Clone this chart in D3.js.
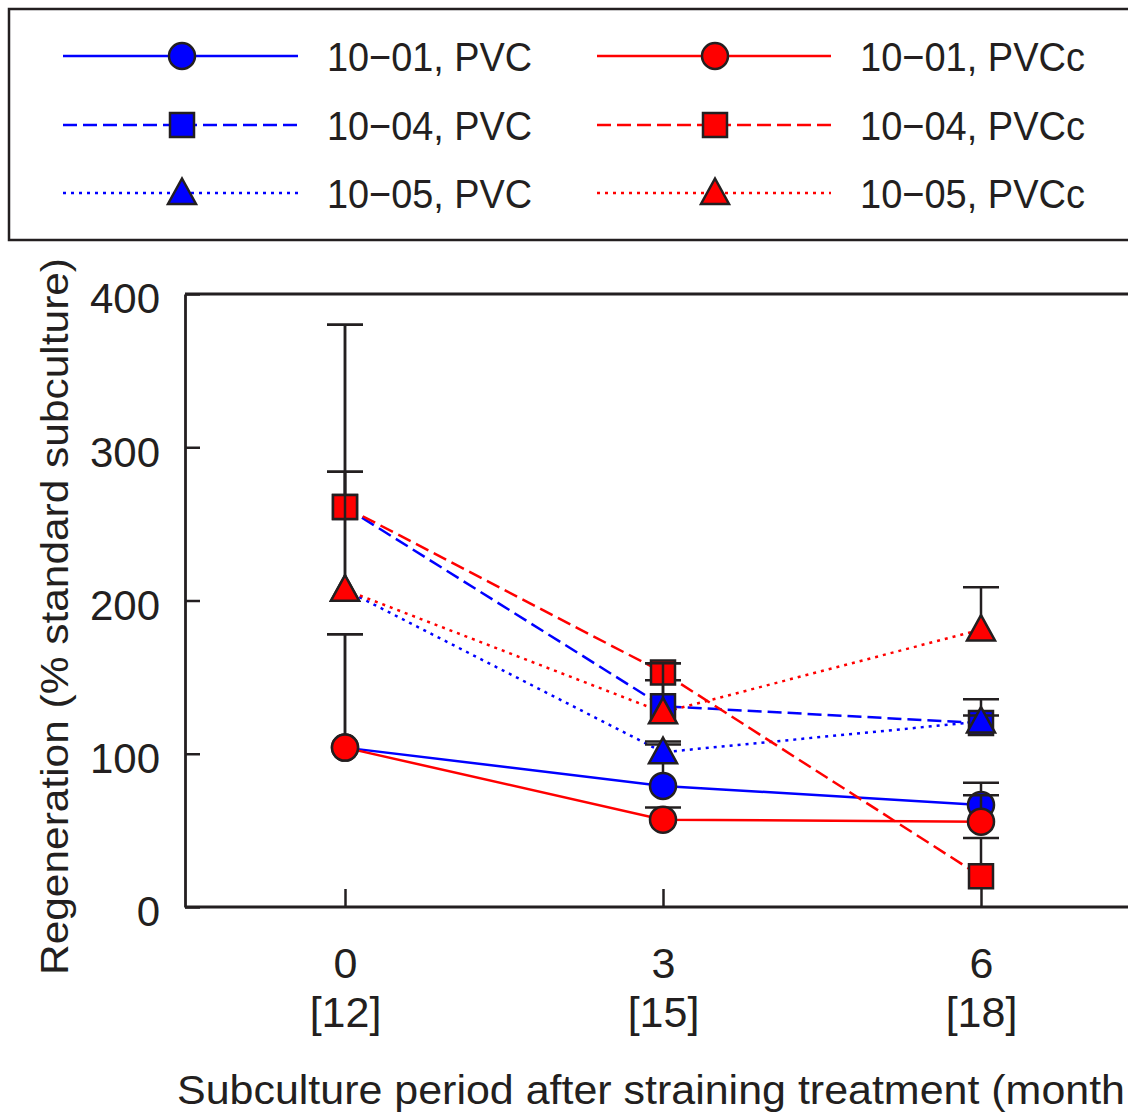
<!DOCTYPE html>
<html><head><meta charset="utf-8">
<script src="https://cdn.jsdelivr.net/npm/d3@7"></script>
<style>body{margin:0;background:#fff}svg{display:block}</style>
</head><body>
<svg id="c" width="1128" height="1112"></svg>
<script>
// ---------- data ----------
const months = [0, 3, 6];
const monthLabels = ["0", "3", "6"];
const totalLabels = ["[12]", "[15]", "[18]"];
const yTicks = [0, 100, 200, 300, 400];

const seriesNames = ["10\u221201, PVC", "10\u221204, PVC", "10\u221205, PVC",
                     "10\u221201, PVCc", "10\u221204, PVCc", "10\u221205, PVCc"];
const seriesColors = ["#0000ff", "#0000ff", "#0000ff", "#ff0000", "#ff0000", "#ff0000"];
const seriesShapes = ["circle", "square", "triangle", "circle", "square", "triangle"];
const seriesDash = ["none", "14,6", "3,5", "none", "14,6", "3,5"];

const pvc01 = [104, 79, 66.6];
const pvc04 = [261, 131, 120];
const pvc05 = [207, 101, 121];
const pvcc01 = [104, 57, 55.7];
const pvcc04 = [261, 153, 20];
const pvcc05 = [207, 127, 181];

// upper end of error bars
const pvc01Err = [178, 106, 81];
const pvc04Err = [380, 148, 135.5];
const pvc05Err = [284, 108, 125];
const pvcc01Err = [178, 65, 73];
const pvcc04Err = [380, 159, 45];
const pvcc05Err = [284, 159, 208.6];

const seriesValues = [pvc01, pvc04, pvc05, pvcc01, pvcc04, pvcc05];
const seriesErr = [pvc01Err, pvc04Err, pvc05Err, pvcc01Err, pvcc04Err, pvcc05Err];

const series = seriesNames.map((name, i) => ({
  name, color: seriesColors[i], shape: seriesShapes[i], dash: seriesDash[i],
  points: months.map((m, j) => ({m, v: seriesValues[i][j], e: seriesErr[i][j]}))
}));

// ---------- layout ----------
const INK = "#231f20";
const FONT = "'Liberation Sans', Arial, Helvetica, sans-serif";
const svg = d3.select("#c");

const x = d3.scaleLinear().domain([0, 6]).range([345, 981]);
const y = d3.scaleLinear().domain([0, 400]).range([907, 294]);
const axisLeftX = 185, axisRightX = 1140;

function markerPath(shape) {
  if (shape === "circle") return "M13,0A13,13 0 1,1 -13,0A13,13 0 1,1 13,0Z";
  if (shape === "square") return "M-12,-12H12V12H-12Z";
  return "M0,-14.5L14,11H-14Z";
}

// top frame line
svg.append("line").attr("x1", axisLeftX).attr("x2", axisRightX)
  .attr("y1", y(400)).attr("y2", y(400))
  .attr("stroke", INK).attr("stroke-width", 2.8);

// y axis
const gy = svg.append("g").attr("transform", `translate(${axisLeftX},0)`)
  .call(d3.axisLeft(y).tickValues(yTicks).tickSizeInner(-15).tickSizeOuter(0).tickPadding(25));
gy.select(".domain").attr("stroke", INK).attr("stroke-width", 2.8);
gy.selectAll(".tick line").attr("stroke", INK).attr("stroke-width", 2.5);
gy.selectAll(".tick text").attr("fill", INK).attr("font-family", FONT)
  .attr("font-size", 42).attr("dy", "0.45em");

// x axis
const gx = svg.append("g").attr("transform", `translate(0,${y(0)})`)
  .call(d3.axisBottom(x).tickValues(months).tickSizeInner(-18).tickSizeOuter(0).tickFormat(""));
gx.select(".domain").remove();
gx.append("line").attr("x1", axisLeftX).attr("x2", axisRightX)
  .attr("stroke", INK).attr("stroke-width", 2.8);
gx.selectAll(".tick line").attr("stroke", INK).attr("stroke-width", 2.5);
gx.selectAll(".tick").each(function(d, i) {
  const t = d3.select(this);
  t.append("text").attr("y", 71).attr("text-anchor", "middle").attr("fill", INK)
    .attr("font-family", FONT).attr("font-size", 43).text(monthLabels[i]);
  t.append("text").attr("y", 120).attr("text-anchor", "middle").attr("fill", INK)
    .attr("font-family", FONT).attr("font-size", 43).text(totalLabels[i]);
});

// axis titles
svg.append("text").attr("x", 177).attr("y", 1104).attr("fill", INK)
  .attr("font-family", FONT).attr("font-size", 41)
  .attr("textLength", 948).attr("lengthAdjust", "spacingAndGlyphs")
  .text("Subculture period after straining treatment (month");

svg.append("text").attr("transform", "translate(68,975) rotate(-90)")
  .attr("fill", INK).attr("font-family", FONT).attr("font-size", 39)
  .attr("textLength", 717).attr("lengthAdjust", "spacingAndGlyphs")
  .text("Regeneration (% standard subculture)");

// connecting lines
const line = d3.line().x(d => x(d.m)).y(d => y(d.v));
series.forEach(s => {
  svg.append("path").datum(s.points).attr("d", line).attr("fill", "none")
    .attr("stroke", s.color).attr("stroke-width", 2.5)
    .attr("stroke-dasharray", s.dash === "none" ? null : s.dash);
});

// error bars + markers, series by series
series.forEach(s => {
  const g = svg.append("g");
  s.points.forEach(p => {
    g.append("line").attr("x1", x(p.m)).attr("x2", x(p.m))
      .attr("y1", y(p.v)).attr("y2", y(p.e)).attr("stroke", INK).attr("stroke-width", 2.5);
    g.append("line").attr("x1", x(p.m) - 18).attr("x2", x(p.m) + 18)
      .attr("y1", y(p.e)).attr("y2", y(p.e)).attr("stroke", INK).attr("stroke-width", 2.5);
  });
  g.selectAll("path.mk").data(s.points).join("path").attr("class", "mk")
    .attr("d", markerPath(s.shape))
    .attr("transform", d => `translate(${x(d.m)},${y(d.v)})`)
    .attr("fill", s.color).attr("stroke", INK).attr("stroke-width", 2.5);
});

// legend
const lg = svg.append("g");
lg.append("rect").attr("x", 9).attr("y", 9).attr("width", 1140).attr("height", 231)
  .attr("fill", "none").attr("stroke", INK).attr("stroke-width", 2.5);
const rowY = [56, 125, 193];
const colX = [{x1: 63, x2: 298, mx: 182, tx: 327, tl: 205}, {x1: 597, x2: 831, mx: 715, tx: 860, tl: 225}];
series.forEach((s, i) => {
  const c = colX[Math.floor(i / 3)], ry = rowY[i % 3];
  lg.append("line").attr("x1", c.x1).attr("x2", c.x2).attr("y1", ry).attr("y2", ry)
    .attr("stroke", s.color).attr("stroke-width", 2.5)
    .attr("stroke-dasharray", s.dash === "none" ? null : s.dash);
  lg.append("path").attr("d", markerPath(s.shape))
    .attr("transform", `translate(${c.mx},${ry})`)
    .attr("fill", s.color).attr("stroke", INK).attr("stroke-width", 2.5);
  lg.append("text").attr("x", c.tx).attr("y", ry + 15).attr("fill", INK)
    .attr("font-family", FONT).attr("font-size", 41)
    .attr("textLength", c.tl).attr("lengthAdjust", "spacingAndGlyphs")
    .text(s.name);
});
</script>
</body></html>
